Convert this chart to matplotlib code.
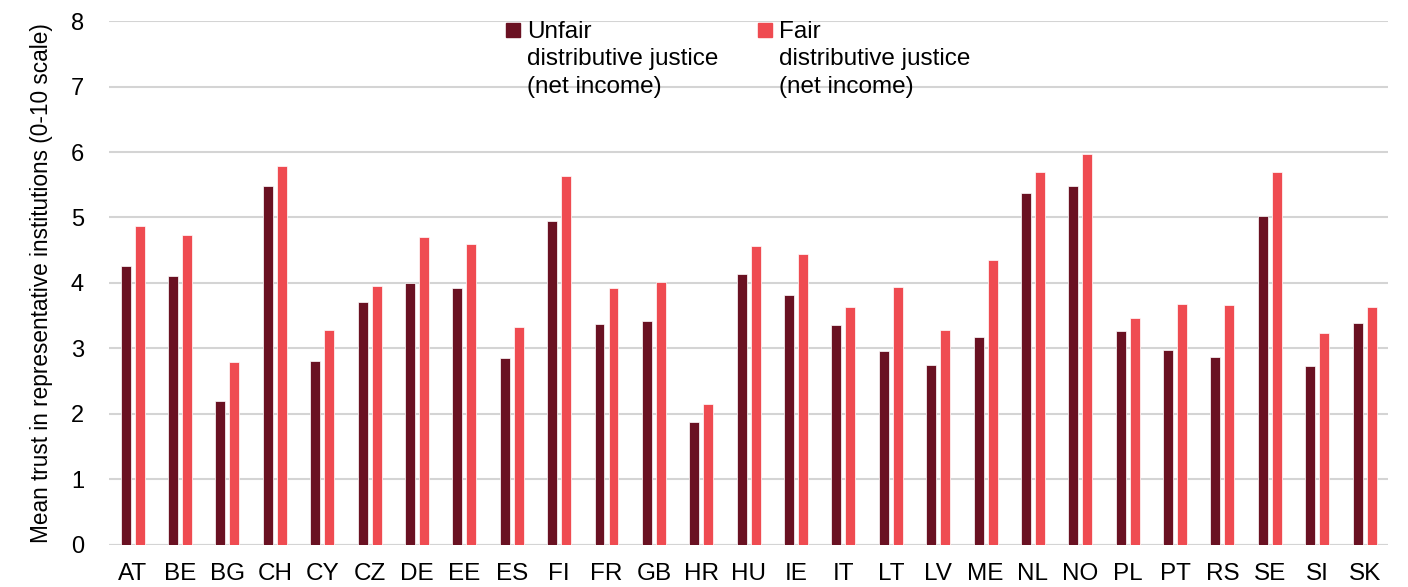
import numpy as np
import matplotlib
matplotlib.use('Agg')
import matplotlib.pyplot as plt
from matplotlib.patches import Rectangle

plt.rcParams['font.family'] = ['Liberation Sans', 'DejaVu Sans']

countries = ['AT', 'BE', 'BG', 'CH', 'CY', 'CZ', 'DE', 'EE', 'ES', 'FI', 'FR', 'GB', 'HR', 'HU',
             'IE', 'IT', 'LT', 'LV', 'ME', 'NL', 'NO', 'PL', 'PT', 'RS', 'SE', 'SI', 'SK']
unfair = [4.26, 4.10, 2.20, 5.48, 2.81, 3.71, 4.00, 3.92, 2.85, 4.95, 3.38, 3.42, 1.87, 4.13,
          3.81, 3.36, 2.96, 2.75, 3.18, 5.38, 5.48, 3.26, 2.98, 2.87, 5.03, 2.73, 3.39]
fair = [4.87, 4.73, 2.79, 5.78, 3.28, 3.96, 4.70, 4.60, 3.33, 5.63, 3.92, 4.02, 2.15, 4.57,
        4.45, 3.63, 3.94, 3.28, 4.35, 5.70, 5.97, 3.47, 3.68, 3.66, 5.70, 3.24, 3.63]
labels = ['Unfair\ndistributive justice\n(net income)',
          'Fair\ndistributive justice\n(net income)']
colors = ['#6a1122', '#ef4b51']

fig = plt.figure(figsize=(14.08, 5.87), dpi=100)
ax = fig.add_axes([0.0774, 0.0716, 0.9086, 0.8926])

x = np.arange(len(countries))
w = 0.21
off = 0.148
ax.bar(x - off, unfair, w, color=colors[0], edgecolor='white', linewidth=0.5, zorder=3)
ax.bar(x + off, fair, w, color=colors[1], edgecolor='white', linewidth=0.5, zorder=3)

ax.set_xlim(-0.5, len(countries) - 0.5)
ax.set_ylim(0, 8)
ax.set_yticks(range(0, 9))
ax.set_xticks(x)
ax.set_xticklabels(countries)
ax.yaxis.grid(True, color='#d4d4d4', linewidth=1.5, zorder=0)
ax.set_axisbelow(True)
for s in ax.spines.values():
    s.set_visible(False)
ax.axhline(0, color='#d4d4d4', linewidth=1.5, zorder=1)
ax.tick_params(axis='y', length=0, labelsize=17, pad=18)
ax.tick_params(axis='x', length=0, labelsize=17.5, pad=13)
ax.set_ylabel('Mean trust in representative institutions (0-10 scale)', fontsize=16.3, labelpad=13)

# legend drawn by hand so the square sits on the first line
for i, (lab, c) in enumerate(zip(labels, colors)):
    px = 506 + i * 252
    fig.patches.append(Rectangle((px / 1408, 1 - 37 / 587), 14 / 1408, 14 / 587,
                                 transform=fig.transFigure, color=c))
    fig.text((px + 21) / 1408, 1 - 21 / 587, lab, fontsize=17.5, va='top', ha='left',
             linespacing=1.32)

fig.savefig('out.png', dpi=100)
